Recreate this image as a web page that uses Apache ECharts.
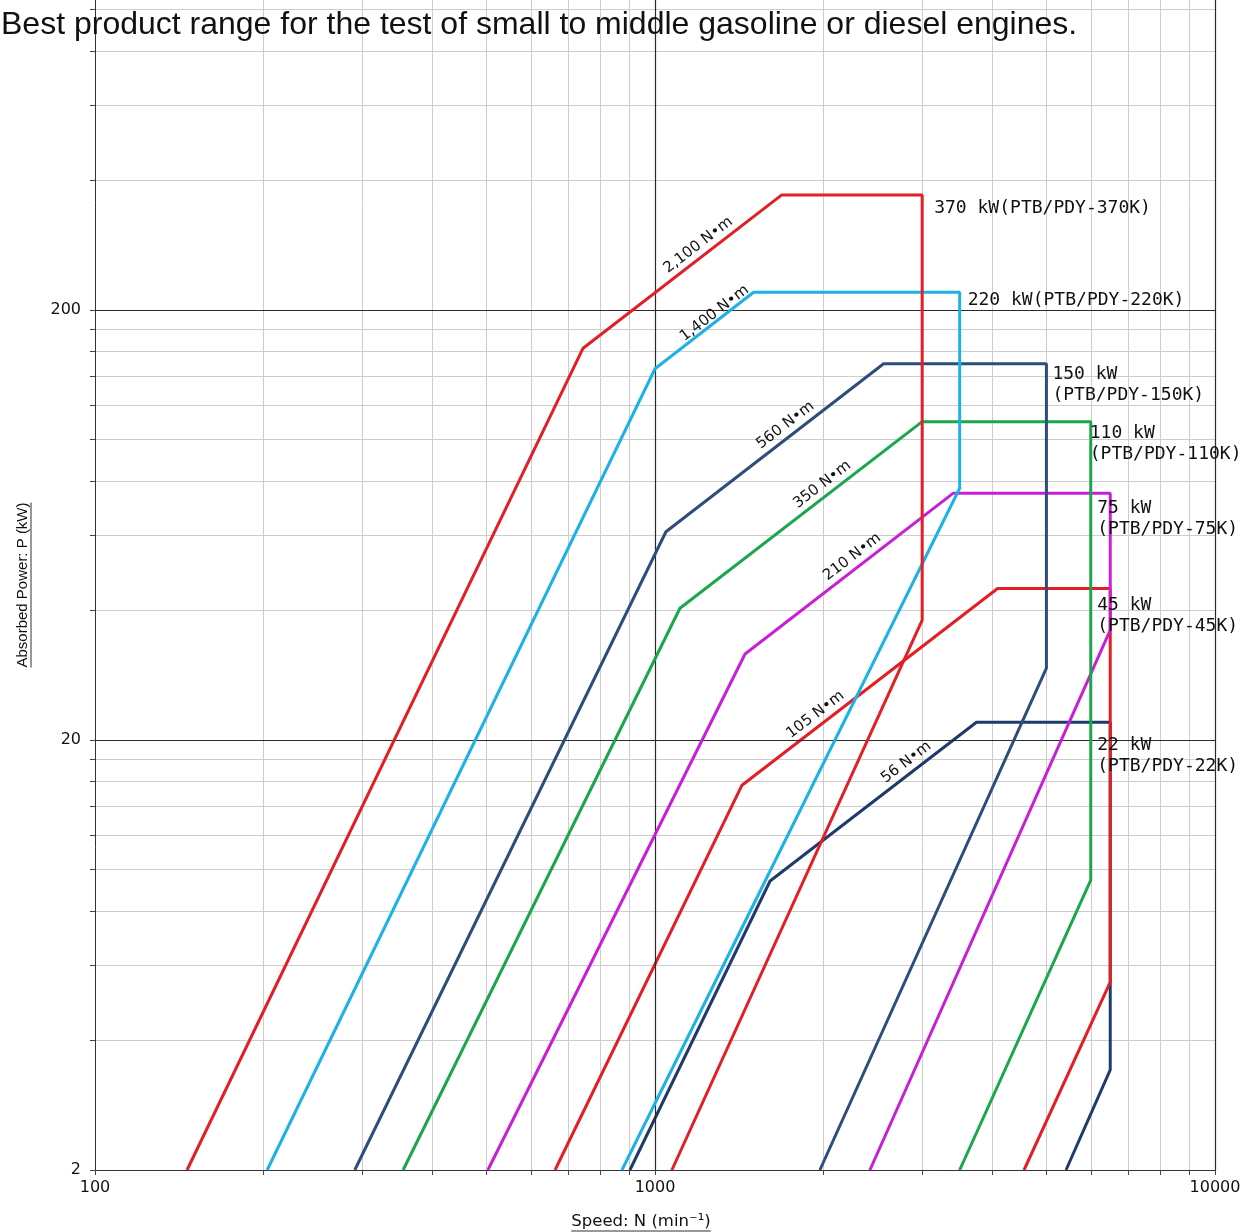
<!DOCTYPE html>
<html><head><meta charset="utf-8">
<script src="https://cdn.jsdelivr.net/npm/echarts@6/dist/echarts.min.js"></script>
<style>html,body{margin:0;padding:0;background:#fff;overflow:hidden}#c{width:1247px;height:1352px;margin-top:-120px}</style>
</head><body><div id="c"></div>
<script>
// ---------- data ----------
const titleText = 'Best product range for the test of small to middle gasoline or diesel engines.';
const xName = 'Speed: N (min\u207B\u00B9)';
const yName = 'Absorbed Power: P (kW)';

const xTickValues = [100,200,300,400,500,600,700,800,900,1000,2000,3000,4000,5000,6000,7000,8000,9000,10000];
const xLabelValues = [100,1000,10000];
const yTickValues = [2,4,6,8,10,12,14,16,18,20,40,60,80,100,120,140,160,180,200,400,600,800,1000,1200,1400,1600,1800,2000];
const yLabelValues = [2,20,200];
const majorX = [1000,10000];
const majorY = [20,200];

// envelope vertices [speed min^-1, power kW]
const p22  = [[902,2],[1605,9.4],[3750,22],[6500,22],[6500,3.42],[5420,2]];
const p45  = [[663,2],[1430,15.7],[4090,45],[6500,45],[6500,5.47],[4560,2]];
const p75  = [[503,2],[1448,31.7],[3410,75],[6500,75],[6500,36],[2420,2]];
const p110 = [[355,2],[1108,40.5],[3000,110],[6000,110],[6000,9.45],[3500,2]];
const p150 = [[291,2],[1046,61],[2560,150],[5000,150],[5000,29.4],[1970,2]];
const p220 = [[203,2],[1000,146],[1500,220],[3500,220],[3500,77],[873,2]];
const p370 = [[146,2],[744,163],[1682,370],[3000,370],[3000,38],[1072,2]];

const productNames = ['22 kW\n(PTB/PDY-22K)','45 kW\n(PTB/PDY-45K)','75 kW\n(PTB/PDY-75K)','110 kW\n(PTB/PDY-110K)','150 kW\n(PTB/PDY-150K)','220 kW(PTB/PDY-220K)','370 kW(PTB/PDY-370K)'];
const envelopes = [p22,p45,p75,p110,p150,p220,p370];

const torqueLabels = ['56 N\u2022m','105 N\u2022m','210 N\u2022m','350 N\u2022m','560 N\u2022m','1,400 N\u2022m','2,100 N\u2022m'];
const torqueValues = [56,105,210,350,560,1400,2100];

// ---------- layout / style (not data) ----------
const OFF = 120; // chart canvas starts 120px above the visible window
const colors = ['#1f3b6e','#e31e24','#c81fd6','#1aa64a','#2d4d7d','#1eb1e7','#e31e24'];
const torqueLabelSpeed = [2889,1988,2313,2045,1757,1300,1228];
const torqueLabelGap = [11,11,11,11,11,7,11];
const productLabelOffset = [[-13,12.5],[-13,6.5],[-13,4.5],[-1,1.5],[6,0.5],[8,-2.5],[12,2.5]];

const chart = echarts.init(document.getElementById('c'), null, {renderer:'canvas'});
const tickFont = 'DejaVu Sans';

const series = envelopes.map((d,i)=>({
  type:'line', data:d, symbol:'none', z:3+i, silent:true, animation:false,
  lineStyle:{color:colors[i], width:3}
}));
series.unshift({
  type:'line', data:[], z:1, silent:true, animation:false,
  markLine:{silent:true, symbol:'none', label:{show:false}, animation:false,
    lineStyle:{color:'#2a2a2a', width:1.2, type:'solid'},
    data: majorX.map(v=>({xAxis:v})).concat(majorY.map(v=>({yAxis:v})))}
});

chart.setOption({
  backgroundColor:'#fff',
  animation:false,
  title:{text:titleText, left:1, top:OFF+9, padding:0, textStyle:{fontFamily:'Liberation Sans', fontSize:32, fontWeight:'normal', color:'#111'}},
  grid:{left:95, right:32, top:0, bottom:62, containLabel:false},
  xAxis:{type:'log', logBase:10, min:100, max:10000,
    axisLine:{show:true, lineStyle:{color:'#333', width:1}},
    axisTick:{show:true, customValues:xTickValues, length:5, inside:false, lineStyle:{color:'#444'}},
    axisLabel:{customValues:xLabelValues, margin:10, fontFamily:tickFont, fontSize:16, color:'#111', formatter:v=>String(Math.round(v))},
    splitLine:{show:true, lineStyle:{color:'#cdcdcd', width:1}}},
  yAxis:{type:'log', logBase:10, min:2, max:2000,
    axisLine:{show:true, lineStyle:{color:'#333', width:1}},
    axisTick:{show:true, customValues:yTickValues, length:5, inside:false, lineStyle:{color:'#444'}},
    axisLabel:{customValues:yLabelValues, margin:14, fontFamily:tickFont, fontSize:16, color:'#111', formatter:v=>String(Math.round(v))},
    splitLine:{show:true, lineStyle:{color:'#cdcdcd', width:1}}},
  series:series
});

// annotations positioned through the chart's own scales
const g = [];
const lblFont = '15px "DejaVu Sans"';
torqueValues.forEach((T,i)=>{
  const pw = N => T*2*Math.PI*N/60000;
  const N = torqueLabelSpeed[i];
  const a = chart.convertToPixel({gridIndex:0},[N,pw(N)]);
  const b = chart.convertToPixel({gridIndex:0},[N*2,pw(N*2)]);
  const ang = Math.atan2(a[1]-b[1], b[0]-a[0]);
  const nx = -Math.sin(ang), ny = -Math.cos(ang);
  const gap = torqueLabelGap[i];
  g.push({type:'text', x:a[0]+gap*nx, y:a[1]+gap*ny, rotation:ang, z:50,
    style:{text:torqueLabels[i], font:lblFont, fill:'#111', align:'center', verticalAlign:'middle'}});
});
envelopes.forEach((d,i)=>{
  const c = chart.convertToPixel({gridIndex:0}, d[3]);
  const o = productLabelOffset[i];
  g.push({type:'text', x:c[0]+o[0], y:c[1]+o[1], z:50,
    style:{text:productNames[i], font:'18px "DejaVu Sans Mono"', fill:'#111', align:'left', verticalAlign:'top', lineHeight:21}});
});
// axis names with underline
const yNameFont = '15px "Liberation Sans Narrow", "Liberation Sans"';
const xNameFont = '16.5px "DejaVu Sans"';
g.push({type:'text', x:23, y:OFF+585, rotation:Math.PI/2, z:50,
  style:{text:yName, font:yNameFont, fill:'#111', align:'center', verticalAlign:'middle'}});
g.push({type:'text', x:641, y:OFF+1222, z:50,
  style:{text:xName, font:xNameFont, fill:'#111', align:'center', verticalAlign:'middle'}});
chart.setOption({graphic:g});

setTimeout(()=>{
  const ctx = document.createElement('canvas').getContext('2d');
  ctx.font = yNameFont;
  const wy = ctx.measureText(yName).width;
  ctx.font = xNameFont;
  const wx = ctx.measureText(xName).width;
  g.push({type:'line', z:50, shape:{x1:31, y1:OFF+585-wy/2, x2:31, y2:OFF+585+wy/2}, style:{stroke:'#333', lineWidth:1}});
  g.push({type:'line', z:50, shape:{x1:641-wx/2, y1:OFF+1231, x2:641+wx/2, y2:OFF+1231}, style:{stroke:'#333', lineWidth:1}});
  chart.setOption({graphic:g});
},0);
</script></body></html>
